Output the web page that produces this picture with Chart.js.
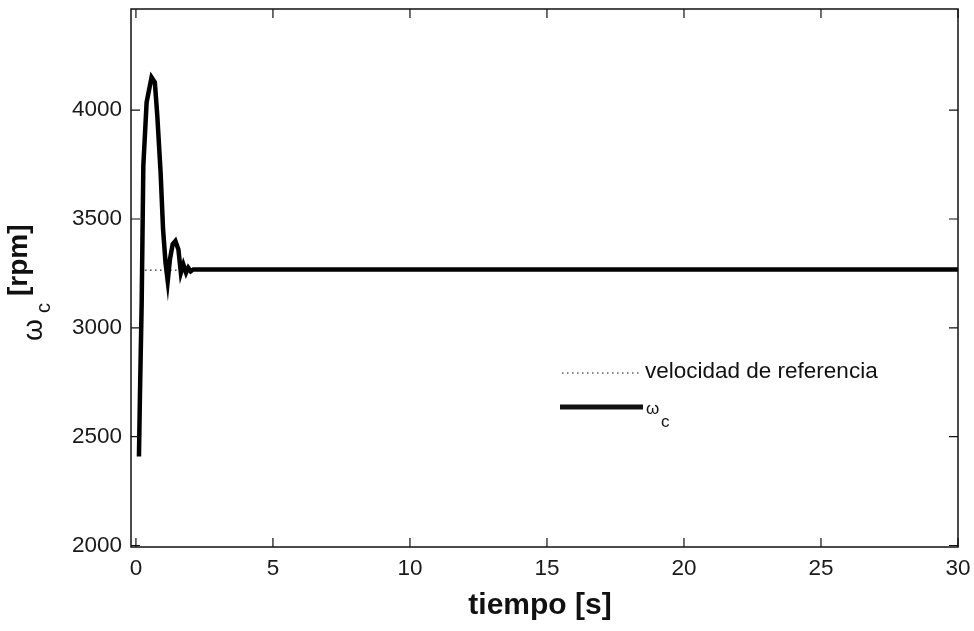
<!DOCTYPE html>
<html>
<head>
<meta charset="utf-8">
<script src="https://cdn.jsdelivr.net/npm/chart.js@4.4.1/dist/chart.umd.min.js"></script>
<style>
  html, body { margin: 0; padding: 0; background: #fff; }
  #wrap { width: 974px; height: 631px; position: relative; }
</style>
</head>
<body>
<div id="wrap"><canvas id="c"></canvas></div>
<script>
// ---- data ----
const omegaTime = [0.11, 0.146, 0.21, 0.27, 0.39, 0.57, 0.69, 0.78, 0.90, 0.99, 1.08, 1.16, 1.24, 1.34, 1.44, 1.55, 1.64, 1.73, 1.83, 1.91, 2.00, 2.09, 2.5, 5, 10, 15, 20, 25, 30];
const omegaRpm  = [2409, 2685, 3115, 3744, 4036, 4151, 4128, 3974, 3714, 3453, 3299, 3215, 3314, 3384, 3399, 3360, 3253, 3291, 3253, 3276, 3260, 3268, 3268, 3268, 3268, 3268, 3268, 3268, 3268];
const refTime = [0.15, 30];
const refRpm  = [3265, 3265];
const xTicks = [0, 5, 10, 15, 20, 25, 30];
const yTicks = [2000, 2500, 3000, 3500, 4000];
const xLabel = 'tiempo [s]';
const yLabelMain = '[rpm]';
const legendRef = 'velocidad de referencia';

const toXY = (xs, ys) => xs.map((x, i) => ({ x: x, y: ys[i] }));

const FONT = '"Liberation Sans", Arial, sans-serif';

const decor = {
  id: 'decor',
  beforeDraw(chart) {
    const ctx = chart.ctx;
    ctx.save();
    ctx.fillStyle = '#fff';
    ctx.fillRect(0, 0, chart.width, chart.height);
    ctx.restore();
  },
  afterDraw(chart) {
    const ctx = chart.ctx;
    const a = chart.chartArea;
    const xs = chart.scales.x, ys = chart.scales.y;
    ctx.save();
    // box
    ctx.strokeStyle = '#111';
    ctx.lineWidth = 1.5;
    ctx.strokeRect(a.left, a.top, a.right - a.left, a.bottom - a.top);
    // inward ticks
    const TL = 9;
    ctx.lineWidth = 1.2;
    ctx.beginPath();
    xTicks.forEach(v => {
      const px = xs.getPixelForValue(v);
      ctx.moveTo(px, a.bottom); ctx.lineTo(px, a.bottom - TL);
      ctx.moveTo(px, a.top); ctx.lineTo(px, a.top + TL);
    });
    yTicks.forEach(v => {
      const py = ys.getPixelForValue(v);
      ctx.moveTo(a.left, py); ctx.lineTo(a.left + TL, py);
      ctx.moveTo(a.right, py); ctx.lineTo(a.right - TL, py);
    });
    ctx.stroke();

    // legend
    ctx.fillStyle = '#111';
    ctx.strokeStyle = '#111';
    ctx.lineWidth = 1.2;
    ctx.setLineDash([1.5, 3.5]);
    ctx.beginPath(); ctx.moveTo(562, 373); ctx.lineTo(642, 373); ctx.stroke();
    ctx.setLineDash([]);
    ctx.font = '22.5px ' + FONT;
    ctx.textAlign = 'left';
    ctx.textBaseline = 'alphabetic';
    ctx.fillText(legendRef, 645, 378);
    ctx.lineWidth = 5;
    ctx.beginPath(); ctx.moveTo(560, 407); ctx.lineTo(643, 407); ctx.stroke();
    ctx.font = '17px ' + FONT;
    ctx.fillText('\u03C9', 646, 414);
    ctx.font = '17px ' + FONT;
    ctx.fillText('c', 661, 427);

    // x title
    ctx.font = 'bold 30px ' + FONT;
    ctx.textAlign = 'center';
    ctx.fillText(xLabel, 540, 614);

    // y title (rotated)
    ctx.textAlign = 'left';
    const rot = (txt, font, bx, by) => {
      ctx.save();
      ctx.translate(bx, by);
      ctx.rotate(-Math.PI / 2);
      ctx.font = font;
      ctx.fillText(txt, 0, 0);
      ctx.restore();
    };
    rot('\u03C9', '28px ' + FONT, 42, 341);
    rot('c', '20px ' + FONT, 50, 313);
    rot(yLabelMain, 'bold 28px ' + FONT, 27, 296);
    ctx.restore();
  }
};

const noPad = s => { s.paddingTop = 0; s.paddingBottom = 0; s.paddingLeft = 0; s.paddingRight = 0; };

new Chart(document.getElementById('c'), {
  type: 'line',
  data: {
    datasets: [
      {
        label: legendRef,
        data: toXY(refTime, refRpm),
        borderColor: '#222',
        borderWidth: 1.2,
        borderDash: [1.5, 3.5],
        pointRadius: 0,
        tension: 0,
        order: 2
      },
      {
        label: '\u03C9c',
        data: toXY(omegaTime, omegaRpm),
        borderColor: '#000',
        borderWidth: 4.5,
        pointRadius: 0,
        tension: 0,
        borderJoinStyle: 'miter',
        order: 1
      }
    ]
  },
  options: {
    responsive: true,
    maintainAspectRatio: false,
    animation: false,
    layout: { padding: { left: 0, right: 16, top: 9, bottom: 0 } },
    plugins: { legend: { display: false }, tooltip: { enabled: false } },
    scales: {
      x: {
        type: 'linear',
        min: -0.18,
        max: 30,
        afterBuildTicks: s => { s.ticks = xTicks.map(v => ({ value: v })); },
        afterFit: s => { s.height = 84; noPad(s); },
        grid: { display: false, drawTicks: false },
        border: { display: false },
        ticks: { color: '#1a1a1a', font: { family: FONT, size: 22.5 }, padding: 8, maxRotation: 0,
                 callback: v => String(v) }
      },
      y: {
        type: 'linear',
        min: 1993,
        max: 4465,
        afterBuildTicks: s => { s.ticks = yTicks.map(v => ({ value: v })); },
        afterFit: s => { s.width = 131; noPad(s); },
        grid: { display: false, drawTicks: false },
        border: { display: false },
        ticks: { color: '#1a1a1a', font: { family: FONT, size: 22.5 }, padding: 9,
                 callback: v => String(v) }
      }
    }
  },
  plugins: [decor]
});
</script>
</body>
</html>
